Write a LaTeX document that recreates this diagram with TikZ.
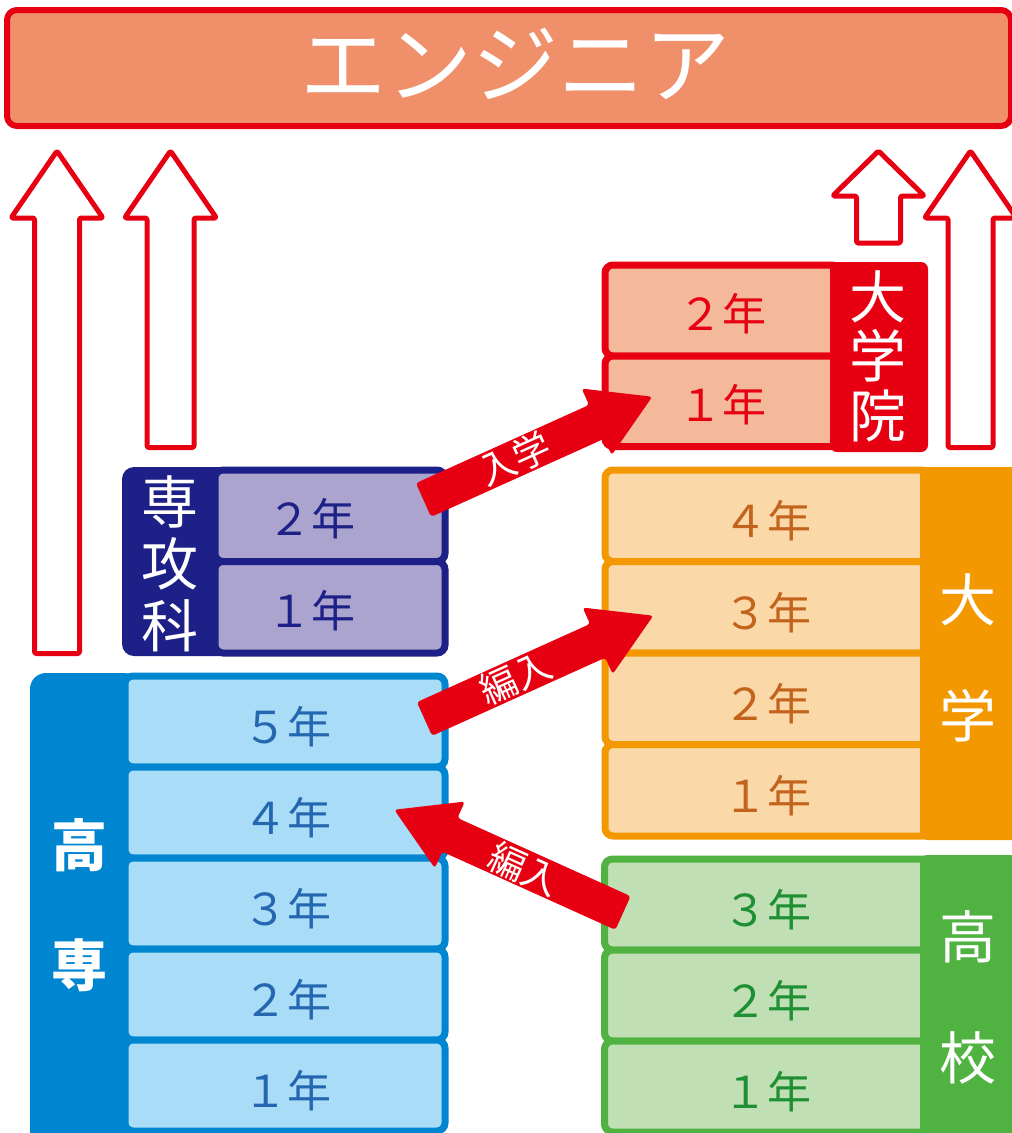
\documentclass[tikz,border=0pt]{standalone}
\usepackage{fontspec}
\newfontfamily\jp{Noto Sans CJK JP}
\definecolor{rd}{HTML}{E60012}
\definecolor{bannerF}{HTML}{F0906A}
\definecolor{nv}{HTML}{1D2087}
\definecolor{lav}{HTML}{AAA4CE}
\definecolor{bl}{HTML}{0086D1}
\definecolor{lbl}{HTML}{A9DCF6}
\definecolor{blt}{HTML}{2566B0}
\definecolor{salm}{HTML}{F4B99B}
\definecolor{org}{HTML}{F39800}
\definecolor{lorg}{HTML}{FAD8A8}
\definecolor{orgt}{HTML}{C4631C}
\definecolor{gr}{HTML}{50B240}
\definecolor{lgr}{HTML}{C1DFB5}
\definecolor{grt}{HTML}{1E8F32}
\newcommand\uparr[6]{\draw[uparrow] (#1,#2) -- (#1+#3,#4) -- (#1+#5,#4) -- (#1+#5,#6) -- (#1-#5,#6) -- (#1-#5,#4) -- (#1-#3,#4) -- cycle;}
\begin{document}
\begin{tikzpicture}[x=1pt,y=-1pt,
  cell/.style={line width=7pt, rounded corners=8pt, inner sep=0pt, outer sep=0pt},
  yeartxt/.style={font=\jp\fontsize{44pt}{50pt}\selectfont, inner sep=0pt},
  coltxt/.style={font=\jp\fontsize{57pt}{60pt}\selectfont, text=white, inner sep=0pt},
  uparrow/.style={draw=rd, line width=5pt, fill=white, rounded corners=1.5pt, line join=round},
  fat/.style={fill=rd, rounded corners=3pt},
  fattxt/.style={font=\jp\fontsize{37pt}{40pt}\selectfont, text=white, inner sep=0pt}
]
\useasboundingbox (0,0) rectangle (1012,1133);
\clip (0,0) rectangle (1012,1133);

% banner
\node[draw=rd, fill=bannerF, line width=6pt, rounded corners=10pt, minimum width=1004pt, minimum height=116pt, inner sep=0pt, outer sep=0pt] (eng) at (509,68) {};
\node[font=\jp\fontsize{86pt}{90pt}\selectfont, text=white, inner sep=0pt] (engt) at (515,64) {エンジニア};

% up arrows
\uparr{57}{151}{46}{218}{22.5}{653.5}
\uparr{170.5}{151}{46}{218}{23.5}{447.5}
\uparr{878.5}{151}{46}{196}{22}{243}
\uparr{970.5}{151}{46}{218}{22.5}{447.5}

% 専攻科
\fill[nv, rounded corners=12pt] (122,467) rectangle (232,656);
\node[cell, draw=nv, fill=lav, minimum width=230pt, minimum height=91.5pt] (s2) at (330,515.75) {};
\node[cell, draw=nv, fill=lav, minimum width=230pt, minimum height=91.5pt] (s1) at (330,607.25) {};
\node[yeartxt, text=nv] at ([xshift=-19pt,yshift=-3pt]s2.center) {２年};
\node[yeartxt, text=nv] at ([xshift=-19pt,yshift=-3pt]s1.center) {１年};
\node[coltxt] (sa) at (170,502) {専};
\node[coltxt] (sb) at (170,564) {攻};
\node[coltxt] (sc) at (170,626) {科};

% 高専
\fill[bl, rounded corners=16pt] (30,673) rectangle (140,1150);
\foreach \n/\yy in {5/721.5,4/812.5,3/903.5,2/994.5,1/1085.5}{
  \node[cell, draw=bl, fill=lbl, minimum width=320pt, minimum height=91pt] (k\n) at (285,\yy) {};
  \node[yeartxt, text=blt] at ([xshift=2pt,yshift=-5pt]k\n.center) {\ifcase\n\or １\or ２\or ３\or ４\or ５\fi 年};
}
\node[coltxt, font=\jp\bfseries\fontsize{56pt}{60pt}\selectfont] (ka) at (79,845) {高};
\node[coltxt, font=\jp\bfseries\fontsize{56pt}{60pt}\selectfont] (kb) at (79,965) {専};

% 大学院
\node[cell, draw=rd, fill=salm, minimum width=235pt, minimum height=91pt] (g2) at (722.5,310.5) {};
\node[cell, draw=rd, fill=salm, minimum width=235pt, minimum height=90.5pt] (g1) at (722.5,401.25) {};
\fill[rd, rounded corners=7pt] (830,262) rectangle (928,452);
\node[yeartxt, text=rd] at ([yshift=-3pt]g2.center) {２年};
\node[yeartxt, text=rd] at ([yshift=-3pt]g1.center) {１年};
\node[coltxt] (ga) at (878,297) {大};
\node[coltxt] (gb) at (878,356) {学};
\node[coltxt] (gc) at (878,416) {院};

% 大学
\foreach \n/\yy in {4/515.75,3/607.25,2/698.75,1/790.25}{
  \node[cell, draw=org, fill=lorg, minimum width=325pt, minimum height=91.5pt] (d\n) at (767.5,\yy) {};
  \node[yeartxt, text=orgt] at ([yshift=-5pt]d\n.center) {\ifcase\n\or １\or ２\or ３\or ４\fi 年};
}
\fill[org, rounded corners=7pt] (920,467) rectangle (1040,840);
\node[coltxt] (da) at (968,600) {大};
\node[coltxt] (db) at (968,716) {学};

% 高校
\foreach \n/\yy in {3/904.5,2/995.5,1/1086.5}{
  \node[cell, draw=gr, fill=lgr, minimum width=325.5pt, minimum height=91pt] (h\n) at (767.25,\yy) {};
  \node[yeartxt, text=grt] at ([yshift=-5pt]h\n.center) {\ifcase\n\or １\or ２\or ３\fi 年};
}
\fill[gr, rounded corners=7pt] (920,855) rectangle (1040,1150);
\node[coltxt] (ha) at (968,937) {高};
\node[coltxt] (hb) at (968,1058) {校};

% fat red arrows
\begin{scope}[shift={(423.5,500)}, rotate=24.3]
  \fill[fat] (0,-18.5) -- (190,-18.5) -- (190,-36.5) -- (251,0) -- (190,36.5) -- (190,18.5) -- (0,18.5) -- cycle;
  \node[fattxt, rotate=24.3] (fa) at (100,0) {入学};
\end{scope}
\begin{scope}[shift={(424.5,719)}, rotate=24.3]
  \fill[fat] (0,-18.5) -- (190,-18.5) -- (190,-36.5) -- (251,0) -- (190,36.5) -- (190,18.5) -- (0,18.5) -- cycle;
  \node[fattxt, rotate=24.3] (fb) at (100,0) {編入};
\end{scope}
\begin{scope}[shift={(623,913)}, rotate=155.7]
  \fill[fat] (0,-18.5) -- (190,-18.5) -- (190,-36.5) -- (251,0) -- (190,36.5) -- (190,18.5) -- (0,18.5) -- cycle;
  \node[fattxt, rotate=-24.3] (fc) at (108,0) {編入};
\end{scope}
\end{tikzpicture}
\end{document}
